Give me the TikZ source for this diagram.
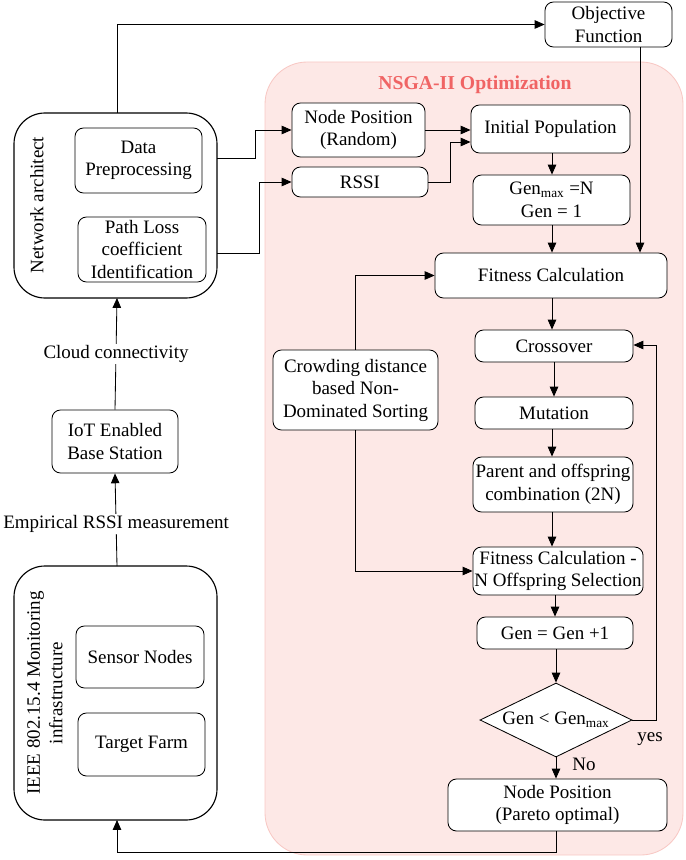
\documentclass[tikz,border=0pt]{standalone}
\usepackage{fontspec}
\setmainfont{Liberation Serif}
\usetikzlibrary{arrows.meta,shapes.geometric,positioning,calc}
\definecolor{panelfill}{RGB}{253,232,230}
\definecolor{panelline}{RGB}{248,200,196}
\definecolor{titlered}{RGB}{240,100,100}
\tikzset{
  box/.style={draw, rounded corners=6pt, fill=white, align=center, inner sep=1pt},
  outer/.style={draw, rounded corners=22pt, fill=white, thick},
  arr/.style={-{Triangle[length=7pt,width=6pt]}},
}
\newcommand{\boxat}[6]{% name, x1, y1, x2, y2, text
  \node[box, minimum width={(#4-#2)*0.025cm}, minimum height={(#5-#3)*0.025cm}]
    (#1) at ({(#2+#4)/2},{(#3+#5)/2}) {#6};}
\begin{document}
\begin{tikzpicture}[x=0.025cm, y=-0.025cm, semithick, font=\fontsize{13.5}{16}\selectfont]
\useasboundingbox (0,0) rectangle (685,860);
% panel
\draw[panelline, fill=panelfill, rounded corners=30pt] (265,62) rectangle (683,855);
\node[text=titlered, font=\fontsize{14}{16}\selectfont\bfseries] (title) at (475,85) {NSGA-II Optimization};
% left column
\draw[outer] (14,113) rectangle (217,298);
\coordinate (na-top) at (117,113);
\coordinate (na-bot) at (117,298);
\node[rotate=90] (nalab) at (37,205) {Network architect};
\boxat{prep}{75}{128}{202}{193}{Data\\Preprocessing}
\boxat{pathloss}{78}{217}{206}{282}{Path Loss\\coefficient\\Identification}
\boxat{iot}{52}{410}{178}{473}{IoT Enabled\\Base Station}
\draw[outer] (14,566) rectangle (217,820);
\coordinate (ieee-top) at (117,566);
\coordinate (ieee-bot) at (117,820);
\node[rotate=90, align=center] (ieeelab) at (45,693) {IEEE 802.15.4 Monitoring\\infrastructure};
\boxat{sensor}{76}{626}{204}{688}{Sensor Nodes}
\boxat{farm}{78}{713}{205}{776}{Target Farm}
% right column
\boxat{obj}{545}{2}{672}{47}{Objective\\Function}
\boxat{npos}{292}{103}{425}{157}{Node Position\\(Random)}
\boxat{rssi}{292}{167}{428}{197}{RSSI}
\boxat{init}{471}{105}{630}{153}{Initial Population}
\boxat{gen}{473}{175}{630}{225}{Gen\textsubscript{max} =N\\Gen = 1}
\boxat{fit}{435}{253}{667}{298}{Fitness Calculation}
\boxat{crowd}{273}{350}{438}{430}{Crowding distance\\based Non-\\Dominated Sorting}
\boxat{cross}{475}{330}{633}{362}{Crossover}
\boxat{mut}{475}{397}{633}{429}{Mutation}
\boxat{comb}{473}{457}{633}{512}{Parent and offspring\\combination (2N)}
\boxat{fitsel}{473}{547}{643}{595}{Fitness Calculation -\\N Offspring Selection}
\boxat{inc}{477}{617}{633}{649}{Gen = Gen +1}
\node[draw, diamond, aspect=2.05, fill=white, inner sep=0pt, minimum width=152*0.025cm, minimum height=74*0.025cm]
  (cond) at (556,720) {Gen {<} Gen\textsubscript{max}};
\boxat{pareto}{448}{779}{667}{831}{Node Position\\(Pareto optimal)}
% connectors
\draw[arr] (na-top) |- (obj.west);
\draw[arr] (obj.south -| 640,0) -- (fit.north -| 640,0);
\draw[arr] (217,158) -| (255,130) -- (npos.west |- 0,130);
\draw[arr] (217,253) -| (259,182) -- (rssi.west |- 0,182);
\draw[arr] (npos.east |- 0,130) -- (init.west |- 0,130);
\draw[arr] (rssi.east |- 0,182) -| (450,142) -- (init.west |- 0,142);
\draw[arr] (init.south -| 552,0) -- (gen.north -| 552,0);
\draw[arr] (gen.south -| 552,0) -- (fit.north -| 552,0);
\draw[arr] (fit.south -| 552,0) -- (cross.north -| 552,0);
\draw[arr] (cross) -- (mut);
\draw[arr] (mut.south -| 552,0) -- (comb.north -| 552,0);
\draw[arr] (comb.south -| 552,0) -- (fitsel.north -| 552,0);
\draw[arr] (fitsel.south -| 555,0) -- (inc.north -| 555,0);
\draw[arr] (inc.south -| 556,0) -- (cond.north);
\draw[arr] (cond.south) -- node[right=8pt, pos=0.35] {No} (pareto.north -| cond.south);
\draw[arr] (cond.east) -| (656,345) -- (cross.east |- 0,345);
\node (yes) at (650,739) {yes};
\draw[arr] (crowd.north -| 355,0) |- (fit.west);
\draw[arr] (crowd.south -| 355,0) |- (fitsel.west);
\draw[arr] (pareto.south -| 556,0) |- (117,852) -- (ieee-bot);
\draw[arr] (ieee-top) -- node[fill=white, inner sep=1pt, pos=0.45] (rssilab) {Empirical RSSI measurement} (iot.south);
\draw[arr] (iot.north) -- node[fill=white, inner sep=1pt, pos=0.5] (cloudlab) {Cloud connectivity} (na-bot);
\end{tikzpicture}
\end{document}
